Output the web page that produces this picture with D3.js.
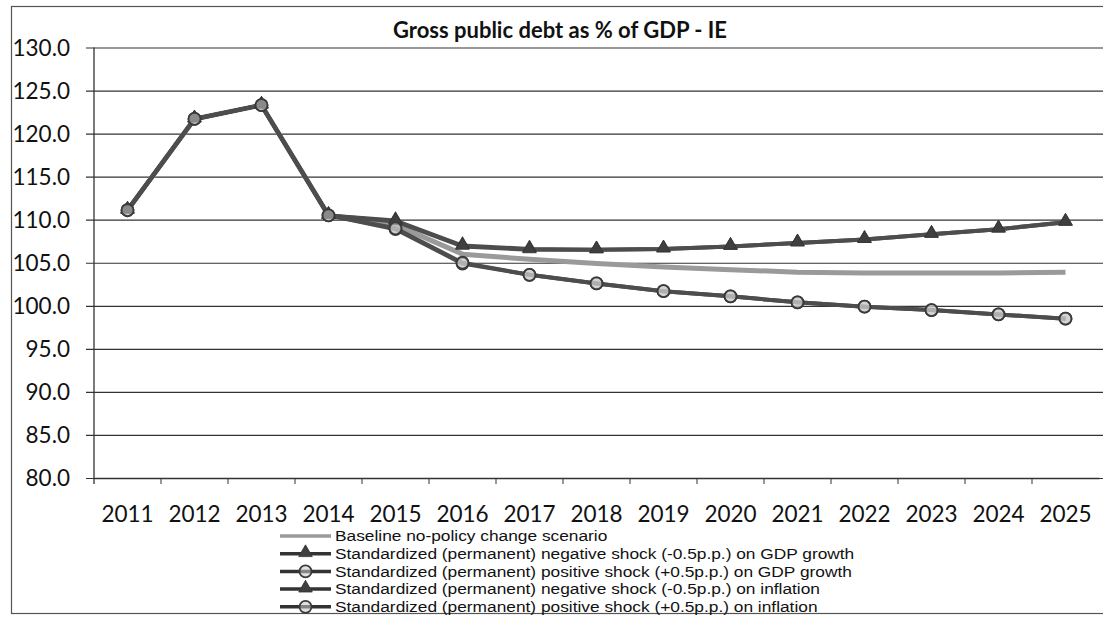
<!DOCTYPE html>
<html>
<head>
<meta charset="utf-8">
<script src="https://cdn.jsdelivr.net/npm/d3@7"></script>
<style>
  body { margin: 0; background: #fff; }
  svg { display: block; }
  .ytick { font-family: Lato, "Open Sans", sans-serif; font-size: 22.5px; fill: #111; }
  .xtick { font-family: Lato, "Open Sans", sans-serif; font-size: 22.5px; fill: #111; }
  .chart-title { font-family: Lato, "Open Sans", sans-serif; font-size: 22px; font-weight: bold; fill: #111; }
  .legend-text { font-family: "Liberation Sans", Arial, sans-serif; font-size: 15.2px; fill: #111; }
</style>
</head>
<body>
<div id="chart"></div>
<script>
// Data
const years = ["2011", "2012", "2013", "2014", "2015", "2016", "2017", "2018",
               "2019", "2020", "2021", "2022", "2023", "2024", "2025"];
const baseline = [111.1, 121.7, 123.3, 110.5, 109.4, 106.0, 105.4, 104.9, 104.5, 104.2, 103.9, 103.8, 103.8, 103.8, 103.9];
const negGdp   = [111.1, 121.7, 123.3, 110.5, 109.9, 107.0, 106.6, 106.5, 106.6, 106.9, 107.3, 107.7, 108.3, 108.9, 109.7];
const posGdp   = [111.1, 121.7, 123.3, 110.5, 108.9, 104.9, 103.6, 102.6, 101.7, 101.1, 100.4, 99.9, 99.5, 99.0, 98.5];
const negInfl  = [111.1, 121.7, 123.3, 110.5, 109.8, 106.9, 106.5, 106.5, 106.6, 106.9, 107.3, 107.7, 108.3, 108.9, 109.7];
const posInfl  = [111.1, 121.7, 123.3, 110.5, 109.0, 105.0, 103.6, 102.6, 101.7, 101.1, 100.4, 99.9, 99.5, 99.0, 98.5];
const yTicks = [80, 85, 90, 95, 100, 105, 110, 115, 120, 125, 130];
const seriesNames = [
    "Baseline no-policy change scenario",
    "Standardized (permanent) negative shock (-0.5p.p.) on GDP growth",
    "Standardized (permanent) positive shock (+0.5p.p.) on GDP growth",
    "Standardized (permanent) negative shock (-0.5p.p.) on inflation",
    "Standardized (permanent) positive shock (+0.5p.p.) on inflation"
];

const series = [
    { name: seriesNames[0], values: baseline, marker: null },
    { name: seriesNames[1], values: negGdp, marker: "triangle" },
    { name: seriesNames[2], values: posGdp, marker: "circle" },
    { name: seriesNames[3], values: negInfl, marker: "triangle" },
    { name: seriesNames[4], values: posInfl, marker: "circle" }
];

const W = 1103, H = 617;
const plot = { left: 94, right: 1099, top: 47.5, bottom: 478 };

const svg = d3.select("#chart").append("svg")
    .attr("width", W)
    .attr("height", H);

// outer frame (runs off the right edge like in the scan)
svg.append("rect")
    .attr("x", 11.5).attr("y", 6.5)
    .attr("width", 1110).attr("height", 607)
    .attr("fill", "none")
    .attr("stroke", "#555")
    .attr("stroke-width", 1.2);

const x = d3.scaleBand()
    .domain(years)
    .range([plot.left, plot.right])
    .padding(0);

const y = d3.scaleLinear()
    .domain([80, 130])
    .range([plot.bottom, plot.top]);

const cx = d => x(d) + x.bandwidth() / 2;

// title
svg.append("text")
    .attr("class", "chart-title")
    .attr("x", 560)
    .attr("y", 38)
    .attr("text-anchor", "middle")
    .text("Gross public debt as % of GDP - IE");

// horizontal gridlines + y labels
const yAxis = d3.axisLeft(y)
    .tickValues(yTicks)
    .tickSize(-(plot.right - plot.left + 4))
    .tickPadding(16)
    .tickFormat(d3.format(".1f"));

const gY = svg.append("g")
    .attr("transform", `translate(${plot.left}, 0)`)
    .call(yAxis);
gY.select(".domain").remove();
gY.selectAll(".tick line")
    .attr("x1", -8)
    .attr("stroke", "#333")
    .attr("stroke-width", 1.2);
gY.selectAll(".tick text")
    .attr("class", "ytick")
    .attr("x", -24)
    .attr("dy", "0.35em");

// y axis line
svg.append("line")
    .attr("x1", plot.left).attr("x2", plot.left)
    .attr("y1", plot.top).attr("y2", plot.bottom + 6)
    .attr("stroke", "#333")
    .attr("stroke-width", 1.3);

// x axis: ticks between categories, labels centered
const gX = svg.append("g")
    .attr("transform", `translate(0, ${plot.bottom})`)
    .call(d3.axisBottom(x).tickSize(0).tickPadding(28));
gX.select(".domain")
    .attr("stroke", "#333")
    .attr("stroke-width", 1.3);
gX.selectAll(".tick text").attr("class", "xtick");

gX.selectAll("line.bound")
    .data(years.slice(1))
    .enter()
    .append("line")
    .attr("class", "bound")
    .attr("x1", d => x(d)).attr("x2", d => x(d))
    .attr("y1", 0).attr("y2", 6)
    .attr("stroke", "#333");

// lines
const line = d3.line()
    .x((d, i) => cx(years[i]))
    .y(d => y(d));

const lineColor = "#4d4d4d";
const baseColor = "#9a9a9a";

svg.append("g")
    .selectAll("path")
    .data(series)
    .enter()
    .append("path")
    .attr("d", d => line(d.values))
    .attr("fill", "none")
    .attr("stroke", d => d.marker ? lineColor : baseColor)
    .attr("stroke-width", d => d.marker ? 4 : 5)
    .attr("stroke-linejoin", "round");

// markers
const tri = d3.symbol().type(d3.symbolTriangle).size(80);

function drawMarker(g, type) {
    if (type === "triangle") {
        g.append("path")
            .attr("d", tri)
            .attr("transform", "translate(0,-1)")
            .attr("fill", "#3f3f3f")
            .attr("stroke", "#333")
            .attr("stroke-width", 0.8);
    } else if (type === "circle") {
        g.append("circle")
            .attr("r", 6)
            .attr("fill", "rgba(200,200,200,0.55)")
            .attr("stroke", "#3a3a3a")
            .attr("stroke-width", 1.8);
    }
}

series.filter(s => s.marker).forEach(s => {
    svg.append("g")
        .selectAll("g")
        .data(s.values)
        .enter()
        .append("g")
        .attr("transform", (d, i) => `translate(${cx(years[i])}, ${y(d)})`)
        .each(function () { drawMarker(d3.select(this), s.marker); });
});

// legend
const legend = svg.append("g")
    .attr("transform", "translate(280, 536)");

const rows = legend.selectAll("g")
    .data(series)
    .enter()
    .append("g")
    .attr("transform", (d, i) => `translate(0, ${i * 17.7})`);

rows.append("line")
    .attr("x1", 0).attr("x2", 51)
    .attr("y1", 0).attr("y2", 0)
    .attr("stroke", d => d.marker ? "#333" : baseColor)
    .attr("stroke-width", 3.5);

rows.each(function (d) {
    const g = d3.select(this).append("g").attr("transform", "translate(25.5, 0)");
    drawMarker(g, d.marker);
});

// text stretched sideways a little, the scan's legend font is wide and tightly spaced
rows.append("text")
    .attr("class", "legend-text")
    .attr("transform", "translate(55, 0) scale(1.14, 1)")
    .attr("dy", "0.35em")
    .text(d => d.name);
</script>
</body>
</html>
